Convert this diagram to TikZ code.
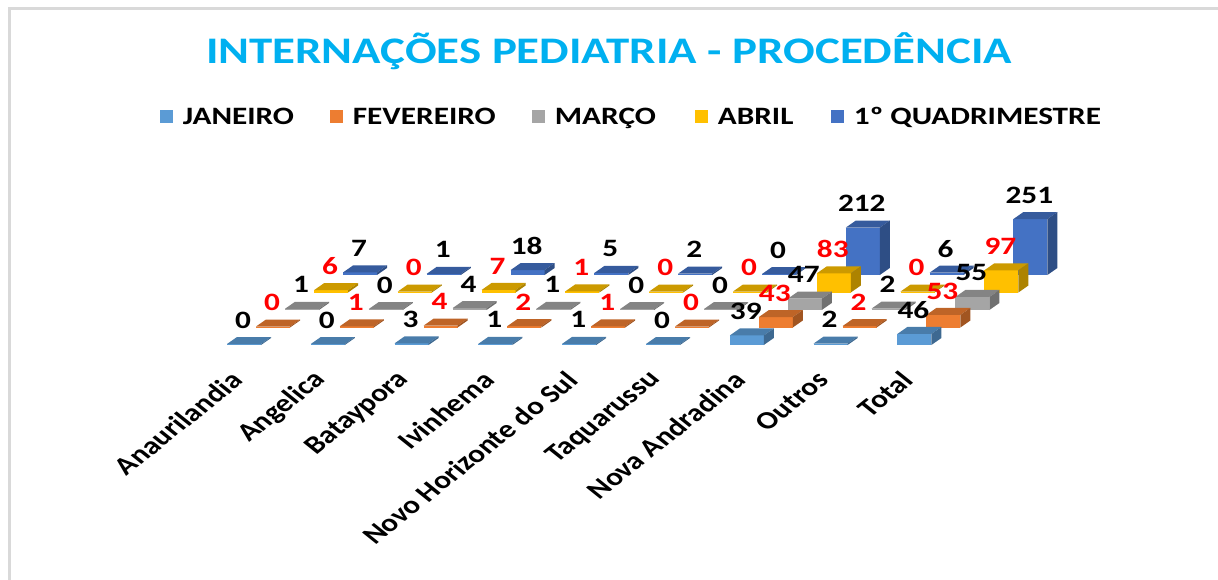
\documentclass[tikz,border=0pt]{standalone}
\usepackage{fontspec}
\setmainfont{Carlito}[FakeStretch=1.25]
\newfontfamily\catfont{Carlito}
\usetikzlibrary{positioning}

\definecolor{jan}{HTML}{5B9BD5}
\definecolor{fev}{HTML}{ED7D31}
\definecolor{mar}{HTML}{A5A5A5}
\definecolor{abr}{HTML}{FFC000}
\definecolor{quad}{HTML}{4472C4}
\definecolor{titleblue}{HTML}{00B0F0}
\definecolor{framegray}{HTML}{D9D9D9}

% 3-D column: #1 category, #2 series, #3 value, #4 colour, #5 label colour
\newcommand{\chartbar}[5]{%
  \pgfmathsetmacro{\bx}{227+83.8*#1+29*#2}
  \pgfmathsetmacro{\by}{345-17.5*#2}
  \pgfmathsetmacro{\bt}{\by-0.219*#3-1}
  \fill[#4] (\bx,\by) rectangle (\bx+34,\bt);
  \fill[#4!80!black] (\bx,\bt) -- (\bx+34,\bt) -- (\bx+44,\bt-7) -- (\bx+10,\bt-7) -- cycle;
  \fill[#4!68!black] (\bx+34,\by) -- (\bx+44,\by-7) -- (\bx+44,\bt-7) -- (\bx+34,\bt) -- cycle;
  \node[vallabel, text=#5] (val#2-#1) at (\bx+16,\bt-24) {#3};
}

\begin{document}
\begin{tikzpicture}[x=1pt, y=-1pt,
    title/.style={font=\fontsize{37.5}{40}\selectfont\bfseries, text=titleblue},
    legbox/.style={minimum size=13pt, inner sep=0pt, fill=#1},
    legtext/.style={font=\fontsize{25}{28}\selectfont\bfseries, inner sep=0pt,
      text height=16pt, text depth=0pt, right=10pt of #1},
    vallabel/.style={font=\fontsize{25}{28}\selectfont\bfseries, inner sep=0pt},
    catlabel/.style={font=\catfont\fontsize{25}{28}\selectfont\bfseries, inner sep=0pt,
      anchor=east, cm={0.884,0.707,-0.884,0.707,(0,0)}}]
  \useasboundingbox (0,0) rectangle (1218,580);
  \draw[framegray, line width=3pt] (1240,9) -- (9,9) -- (9,600);

  \node[title] (title) at (609,51) {INTERNAÇÕES PEDIATRIA - PROCEDÊNCIA};

  % legend
  \node[legbox=jan] (ljan) at (166,117) {};
  \node[legtext=ljan] (tjan) {JANEIRO};
  \node[legbox=fev] (lfev) at (336,117) {};
  \node[legtext=lfev] (tfev) {FEVEREIRO};
  \node[legbox=mar] (lmar) at (538,117) {};
  \node[legtext=lmar] (tmar) {MARÇO};
  \node[legbox=abr] (labr) at (701,117) {};
  \node[legtext=labr] (tabr) {ABRIL};
  \node[legbox=quad] (lquad) at (837,117) {};
  \node[legtext=lquad] (tquad) {1º QUADRIMESTRE};

  % columns, back row first
  \foreach \k/\col/\lab/\vals in {
      4/quad/black/{7,1,18,5,2,0,212,6,251},
      3/abr/red/{6,0,7,1,0,0,83,0,97},
      2/mar/black/{1,0,4,1,0,0,47,2,55},
      1/fev/red/{0,1,4,2,1,0,43,2,53},
      0/jan/black/{0,0,3,1,1,0,39,2,46}}
    \foreach \v [count=\c from 0] in \vals
      \chartbar{\c}{\k}{\v}{\col}{\lab};

  % categories
  \foreach \name [count=\c from 0] in {Anaurilandia, Angelica, Bataypora, Ivinhema,
      Novo Horizonte do Sul, Taquarussu, Nova Andradina, Outros, Total}
    \node[catlabel] (cat\c) at (237+83.8*\c,376) {\name};
\end{tikzpicture}
\end{document}
